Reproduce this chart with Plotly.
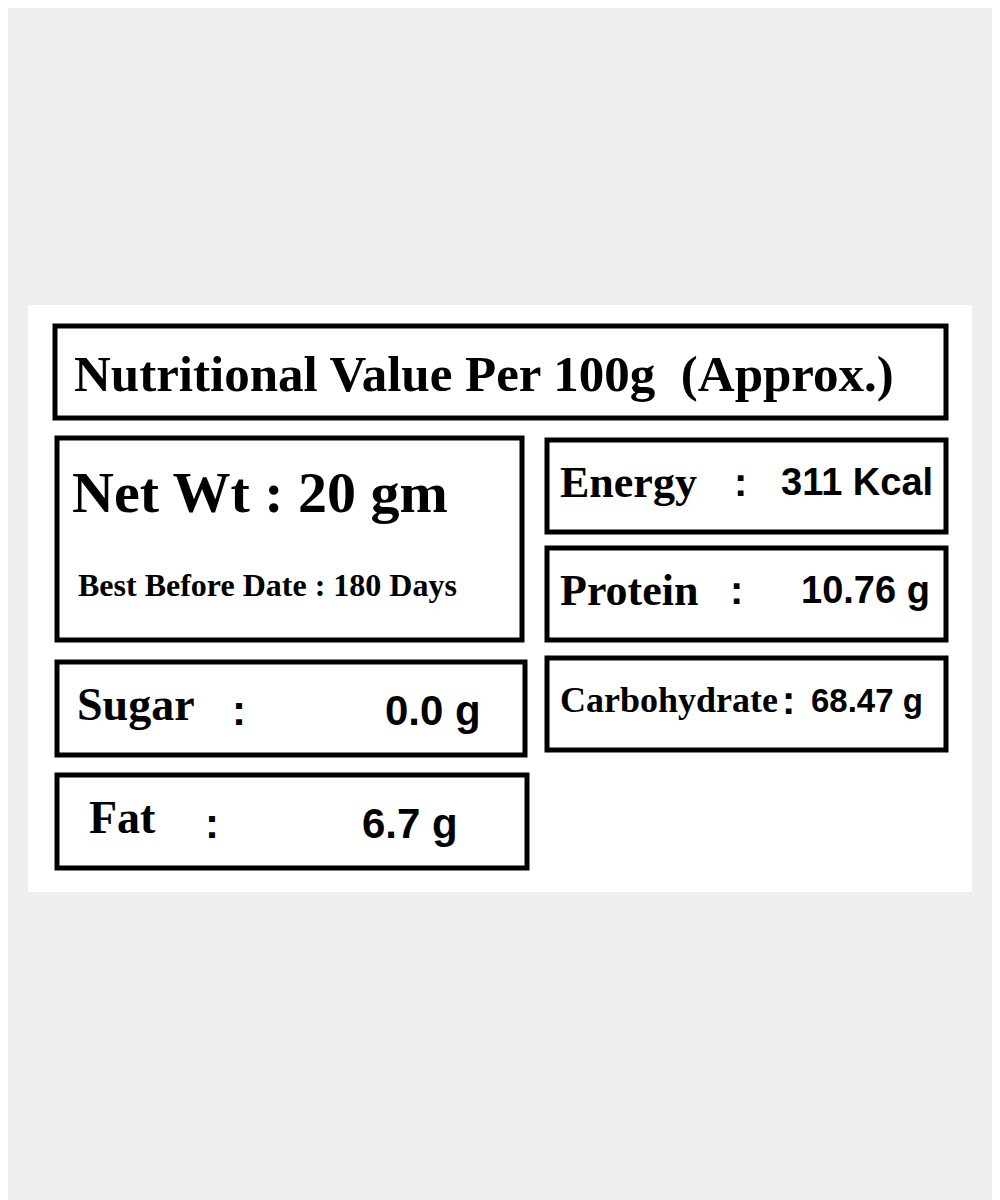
import plotly.graph_objects as go

# label content
title_text = "Nutritional Value Per 100g  (Approx.)"
net_wt = "Net Wt : 20 gm"
best_before = "Best Before Date : 180 Days"
left_names = ["Sugar", "Fat"]
left_values = ["0.0 g", "6.7 g"]
right_names = ["Energy", "Protein", "Carbohydrate"]
right_values = ["311 Kcal", "10.76 g", "68.47 g"]

# layout (pixel coords of the 1000x1200 picture)
left_boxes = [(57, 662, 525, 755), (57, 775, 527, 868)]
left_name_x = [75, 87]
left_colon_x = [230, 203]
left_val_x = [483, 460]
right_boxes = [(547, 440, 946, 532), (547, 548, 946, 640), (547, 658, 946, 750)]
right_colon_x = [732, 728, 780]
right_val_x = [935, 932, 925]

serif = "Liberation Serif"
sans = "Liberation Sans"

fig = go.Figure()
shapes = [dict(type="rect", x0=28, y0=305, x1=972, y1=892,
               fillcolor="white", line=dict(width=0), layer="below")]


def box(x0, y0, x1, y1):
    shapes.append(dict(type="rect", x0=x0, y0=y0, x1=x1, y1=y1,
                       line=dict(color="black", width=5), fillcolor="rgba(0,0,0,0)"))


ann = []


def txt(x, y, s, size, font, anchor="left"):
    ann.append(dict(x=x, y=y, text="<b>" + s + "</b>", showarrow=False,
                    xanchor=anchor, yanchor="middle",
                    font=dict(family=font, size=size, color="black")))


box(55, 326, 946, 418)
txt(72, 374, title_text, 51, serif)

box(57, 438, 522, 640)
txt(70, 492, net_wt, 58, serif)
txt(76, 585, best_before, 32, serif)

for (b, n, v, nx, cx, vx) in zip(left_boxes, left_names, left_values, left_name_x, left_colon_x, left_val_x):
    box(*b)
    cy = (b[1] + b[3]) / 2 - 4
    txt(nx, cy, n, 46, serif)
    txt(cx, cy + 6, ":", 42, sans)
    txt(vx, cy + 6, v, 42, sans, anchor="right")

for (b, n, v, cx, vx) in zip(right_boxes, right_names, right_values, right_colon_x, right_val_x):
    box(*b)
    cy = (b[1] + b[3]) / 2 - 4
    size = 44 if n != "Carbohydrate" else 36
    txt(558, cy, n, size, serif)
    txt(cx, cy, ":", 40, sans)
    txt(vx, cy, v, 38 if n != "Carbohydrate" else 33, sans, anchor="right")

# page body has an 8px margin, so shift the ranges to keep picture coords
fig.update_layout(
    width=1000, height=1200, margin=dict(l=0, r=0, t=0, b=0),
    paper_bgcolor="#efefef", plot_bgcolor="#efefef",
    xaxis=dict(range=[8, 1008], visible=False, fixedrange=True),
    yaxis=dict(range=[1208, 8], visible=False, fixedrange=True),
    shapes=shapes, annotations=ann, showlegend=False,
)
fig.write_html("out.html")
